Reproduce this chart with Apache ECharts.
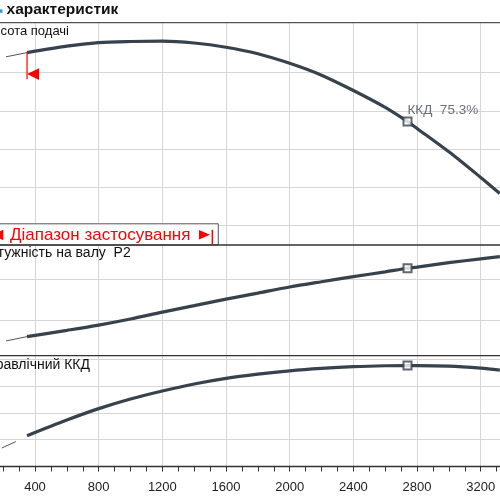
<!DOCTYPE html>
<html><head><meta charset="utf-8">
<script src="https://cdn.jsdelivr.net/npm/echarts@6/dist/echarts.min.js"></script>
<style>
html,body{margin:0;padding:0;width:500px;height:500px;overflow:hidden;background:#fff;}
#c{position:absolute;left:-40px;top:0;width:600px;height:500px;}
</style>
</head><body><div id="c"></div>
<script>
// ---- data (flow in l/min) ----
const flowQ   = [350, 600, 800, 1000, 1200, 1400, 1600, 1800, 2000, 2200, 2400, 2600, 2740, 2800, 3000, 3200, 3320];
const headH   = [55.2, 56.9, 57.8, 58.1, 58.2, 57.7, 56.6, 54.9, 52.4, 49.3, 45.3, 40.9, 37.2, 35.4, 29.3, 22.6, 18.4];
const powerP2 = [5.85, 7.4, 8.7, 10.2, 11.9, 13.5, 15.1, 16.6, 18.1, 19.4, 20.65, 21.85, 22.72, 23.0, 24.1, 25.05, 25.6];
const effEta  = [23.0, 34.7, 43.2, 50.4, 56.4, 61.6, 65.8, 68.9, 71.4, 73.2, 74.5, 75.2, 75.3, 75.3, 74.9, 73.4, 72.0];
const headExtQ  = [218, 350];  const headExtH  = [54.1, 55.2];
const powerExtQ = [218, 350];  const powerExtP = [4.77, 5.85];
const effExtQ   = [191, 280];  const effExtE   = [13.8, 18.6];
const bepQ = 2740, bepH = 37.2, bepP2 = 22.72, bepEta = 75.3;
const rangeStartQ = 350, rangeStartH = 55.2;
const headLabel = 'Висота подачі';
const powerLabel = 'Потужність на валу  P2';
const effLabel = 'Гідравлічний ККД';
const rangeLabel = 'Діапазон застосування';
const bepLabel = 'ККД  ' + bepEta + '%';

const pairs = (xs, ys) => xs.map((x, i) => [x, ys[i]]);
const FONT = '"Liberation Sans", Arial, sans-serif';
const CURVE = '#37424c';
const GRIDC = '#d6d6d6';
const OX = 40; // container offset

const L = 11.33, R = 15.6;
const grids = [
  {left: L, right: R, top: 34.2, height: 229.8},
  {left: L, right: R, top: 245, height: 115.3},
  {left: L, right: R, top: 355.7, height: 110.8},
  {left: L, right: R, top: 22.7, height: 443.8}
];
function xAx(i, mode) {
  const showAxis = mode === 'axis', showGrid = mode === 'grid';
  return {
    type: 'value', gridIndex: i, min: 0, max: 3600, interval: 400,
    splitLine: {show: showGrid, lineStyle: {color: GRIDC, width: 1}},
    axisLine: {show: showAxis, onZero: false, lineStyle: {color: '#333', width: 1.3}},
    axisTick: {show: showAxis, length: 5, lineStyle: {color: '#333', width: 1}},
    minorTick: {show: showAxis, splitNumber: 4, length: 5, lineStyle: {color: '#333', width: 1}},
    axisLabel: {show: showAxis, fontSize: 13, color: '#222', fontFamily: FONT, margin: 14,
      showMaxLabel: false, showMinLabel: false, formatter: v => String(v)}
  };
}
function yAx(i, max, interval, grid) {
  return {
    type: 'value', gridIndex: i, min: 0, max: max, interval: interval,
    axisLine: {show: false}, axisTick: {show: false}, axisLabel: {show: false},
    splitLine: {show: grid, showMinLine: false, showMaxLine: false, lineStyle: {color: GRIDC, width: 1}}
  };
}
function mainLine(i, data) {
  return {type: 'line', xAxisIndex: i, yAxisIndex: i, data: data, smooth: 0.3, symbol: 'none',
    lineStyle: {color: CURVE, width: 3.2}, z: 3, silent: true};
}
function thinLine(i, data) {
  return {type: 'line', xAxisIndex: i, yAxisIndex: i, data: data, symbol: 'none',
    lineStyle: {color: '#555', width: 1}, z: 2, silent: true};
}
function bep(i, y, label) {
  const s = {type: 'scatter', xAxisIndex: i, yAxisIndex: i, data: [[bepQ, y]], symbol: 'rect', symbolSize: 8,
    itemStyle: {color: '#fff', borderColor: CURVE, borderWidth: 2}, z: 5, silent: true};
  if (label) s.label = {show: true, formatter: label, position: [5, -13], color: '#434e58', fontSize: 13.5, fontFamily: FONT};
  return s;
}

const chart = echarts.init(document.getElementById('c'), null, {renderer: 'canvas'});
chart.setOption({
  animation: false,
  backgroundColor: '#fff',
  grid: grids,
  xAxis: [xAx(0, 'none'), xAx(1, 'none'), xAx(2, 'axis'), xAx(3, 'grid')],
  yAxis: [yAx(0, 60, 10, true), yAx(1, 28.47, 10, true), yAx(2, 82.7, 20, true), yAx(3, 1, 1, false)],
  series: [
    thinLine(0, pairs(headExtQ, headExtH)), mainLine(0, pairs(flowQ, headH)), bep(0, bepH, bepLabel),
    thinLine(1, pairs(powerExtQ, powerExtP)), mainLine(1, pairs(flowQ, powerP2)), bep(1, bepP2),
    thinLine(2, pairs(effExtQ, effExtE)), mainLine(2, pairs(flowQ, effEta)), bep(2, bepEta)
  ]
});

const p0 = chart.convertToPixel({gridIndex: 0}, [rangeStartQ, rangeStartH]);
const rx = p0[0], ry = p0[1];
const RED = '#ff0000';
chart.setOption({
  graphic: [
    // separators
    {type: 'line', shape: {x1: 0, y1: 22.7, x2: 600, y2: 22.7}, style: {stroke: '#555', lineWidth: 1.3}, z: 50},
    {type: 'line', shape: {x1: 0, y1: 245, x2: 600, y2: 245}, style: {stroke: '#333', lineWidth: 1.3}, z: 50},
    {type: 'line', shape: {x1: 0, y1: 355.7, x2: 600, y2: 355.7}, style: {stroke: '#333', lineWidth: 1.3}, z: 50},
    // title
    {type: 'rect', shape: {x: OX - 4, y: 9.3, width: 6.5, height: 3.6}, style: {fill: '#3d9ad6'}, z: 50},
    {type: 'text', x: OX + 118.3, y: 10, style: {text: 'характеристик', font: 'bold 15.5px ' + FONT, fill: '#111', align: 'right', verticalAlign: 'middle'}, z: 50},
    // panel labels
    {type: 'text', x: OX + 69, y: 31.5, style: {text: headLabel, font: '13px ' + FONT, fill: '#111', align: 'right', verticalAlign: 'middle'}, z: 50},
    {type: 'text', x: OX + 130.7, y: 253.5, style: {text: powerLabel, font: '14px ' + FONT, fill: '#111', align: 'right', verticalAlign: 'middle'}, z: 50},
    {type: 'text', x: OX + 90, y: 364.7, style: {text: effLabel, font: '14px ' + FONT, fill: '#111', align: 'right', verticalAlign: 'middle'}, z: 50},
    // range box
    {type: 'rect', shape: {x: OX - 20, y: 223.8, width: 238.3, height: 21.2}, style: {fill: '#fff', stroke: '#555', lineWidth: 1}, z: 40},
    {type: 'polygon', shape: {points: [[OX - 8, 235], [OX + 3.3, 229.8], [OX + 3.3, 240.2]]}, style: {fill: RED}, z: 51},
    {type: 'text', x: OX + 10, y: 235, style: {text: rangeLabel, font: '17px ' + FONT, fill: RED, align: 'left', verticalAlign: 'middle'}, z: 51},
    {type: 'polygon', shape: {points: [[OX + 199, 230], [OX + 199, 239.5], [OX + 210, 234.7]]}, style: {fill: RED}, z: 51},
    {type: 'rect', shape: {x: OX + 211.6, y: 229.8, width: 1.5, height: 14.5}, style: {fill: RED}, z: 51},
    // range start marker on head curve
    {type: 'line', shape: {x1: rx, y1: ry, x2: rx, y2: ry + 26.6}, style: {stroke: RED, lineWidth: 1.2}, z: 51},
    {type: 'polygon', shape: {points: [[rx, ry + 21.5], [rx + 12, ry + 15.6], [rx + 12, ry + 27.3]]}, style: {fill: RED}, z: 51}
  ]
});
</script>
</body></html>
